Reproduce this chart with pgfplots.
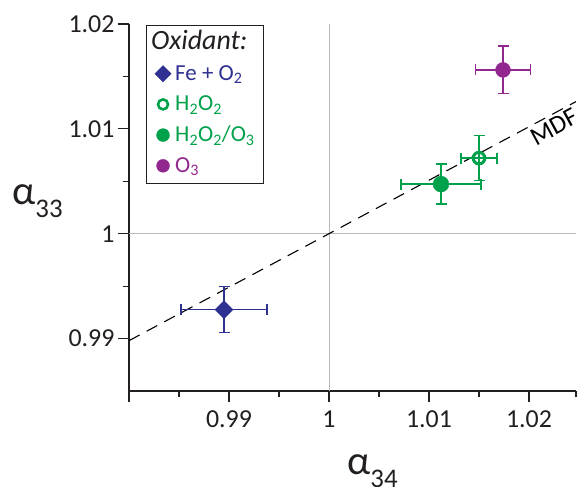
\documentclass[border=0pt]{standalone}
\usepackage{pgfplots}
\pgfplotsset{compat=1.18}
\usepackage{fontspec}
\setmainfont{Carlito}
\definecolor{cblue}{HTML}{2E3192}
\definecolor{cgreen}{HTML}{00A14B}
\definecolor{cpurple}{HTML}{92278F}
\definecolor{cax}{HTML}{231F20}
\begin{document}
\begin{tikzpicture}
\useasboundingbox (-129bp,-96bp) rectangle (448bp,391bp);
\clip (-129bp,-96bp) rectangle (448bp,391bp);
\begin{axis}[name=ax, at={(0,0)}, anchor=south west,
  scale only axis, width=447bp, height=367bp,
  xmin=0.98, xmax=1.0247, ymin=0.985, ymax=1.02,
  axis lines*=left, axis line style={cax, line width=1.1bp},
  tick align=outside,
  xtick={0.98,0.99,1,1.01,1.02}, xticklabels={,0.99,1,1.01,1.02},
  minor xtick={0.985,0.995,1.005,1.015,1.0247},
  ytick={0.99,1,1.01,1.02}, yticklabels={0.99,1,1.01,1.02},
  minor ytick={0.995,1.005,1.015},
  major tick length=11bp, minor tick length=6bp,
  every tick/.style={cax, line width=1.1bp},
  ticklabel style={font=\fontsize{26}{26}\selectfont, text=cax},
  xticklabel style={yshift=-5bp},
  clip=true,
  legend style={at={(rel axis cs:0.038,0.997)}, anchor=north west,
    draw=cax, line width=1.1bp, inner xsep=8bp, inner ysep=2bp,
    row sep=0bp, column sep=3bp, font=\fontsize{23}{23}\selectfont,
    nodes={inner ysep=2bp, inner xsep=1bp, text height=19.8bp, text depth=6.9bp}},
  legend cell align=left,
]
\addplot[gray!55, line width=0.8bp, forget plot] coordinates {(1,0.985) (1,1.02)};
\addplot[gray!55, line width=0.8bp, forget plot] coordinates {(0.98,1) (1.0247,1)};
\addplot[black, line width=1.1bp, dash pattern=on 12bp off 8bp, forget plot] coordinates {(0.98,0.9898) (1.0247,1.0126)};
\node[rotate=28.4, anchor=base west, font=\fontsize{26}{26}\selectfont, text=black, inner sep=0pt] at (axis cs:1.0207,1.00835) {MDF};
% Fe + O2
\addplot[cblue, only marks, mark=square*, mark size=6.4bp, mark options={rotate=45, line width=0.3bp}, forget plot,
  error bars/.cd, x dir=both, x explicit, y dir=both, y explicit,
  error bar style={line width=1.5bp}, error mark options={rotate=90, mark size=5.5bp, line width=1.5bp}]
  coordinates {(0.9895,0.99276) +- (0.0043,0.0022)};
% H2O2
\addplot[cgreen, only marks, mark=o, mark size=5.8bp, mark options={line width=3bp}, forget plot,
  error bars/.cd, x dir=both, x explicit, y dir=both, y explicit,
  error bar style={line width=1.5bp}, error mark options={rotate=90, mark size=5.5bp, line width=1.5bp}]
  coordinates {(1.0150,1.00721) +- (0.0018,0.00214)};
% H2O2/O3
\addplot[cgreen, only marks, mark=*, mark size=8bp, mark options={line width=0.3bp}, forget plot,
  error bars/.cd, x dir=both, x explicit, y dir=both, y explicit,
  error bar style={line width=1.5bp}, error mark options={rotate=90, mark size=5.5bp, line width=1.5bp}]
  coordinates {(1.0112,1.00473) +- (0.0040,0.0019)};
% O3
\addplot[cpurple, only marks, mark=*, mark size=7.5bp, mark options={line width=0.3bp}, forget plot,
  error bars/.cd, x dir=both, x explicit, y dir=both, y explicit,
  error bar style={line width=1.5bp}, error mark options={rotate=90, mark size=5.5bp, line width=1.5bp}]
  coordinates {(1.0174,1.01562) +- (0.00275,0.00227)};
% legend
\addlegendimage{empty legend}
\addlegendentry{\hspace{-24bp}\fontsize{28}{28}\selectfont\itshape\color{cax}Oxidant:}
\addlegendimage{only marks, mark=square*, mark size=5.8bp, mark options={rotate=45, cblue, line width=0.3bp}}
\addlegendentry{\textcolor{cblue}{Fe + O\textsubscript{2}}}
\addlegendimage{only marks, mark=o, mark size=5bp, mark options={cgreen, line width=2.6bp}}
\addlegendentry{\textcolor{cgreen}{H\textsubscript{2}O\textsubscript{2}}}
\addlegendimage{only marks, mark=*, mark size=6.5bp, mark options={cgreen, line width=0.3bp}}
\addlegendentry{\textcolor{cgreen}{H\textsubscript{2}O\textsubscript{2}/O\textsubscript{3}}}
\addlegendimage{only marks, mark=*, mark size=6.5bp, mark options={cpurple, line width=0.3bp}}
\addlegendentry{\textcolor{cpurple}{O\textsubscript{3}}}
\end{axis}
\node[anchor=base, text=cax, inner sep=0pt] at ([xshift=243.5bp, yshift=-83bp]ax.south west)
  {\fontsize{41}{41}\selectfont α\raisebox{-13bp}{\fontsize{27}{27}\selectfont 34}};
\node[anchor=base, text=cax, inner sep=0pt] at ([xshift=-91.5bp, yshift=186bp]ax.south west)
  {\fontsize{41}{41}\selectfont α\raisebox{-13bp}{\fontsize{27}{27}\selectfont 33}};
\end{tikzpicture}
\end{document}
